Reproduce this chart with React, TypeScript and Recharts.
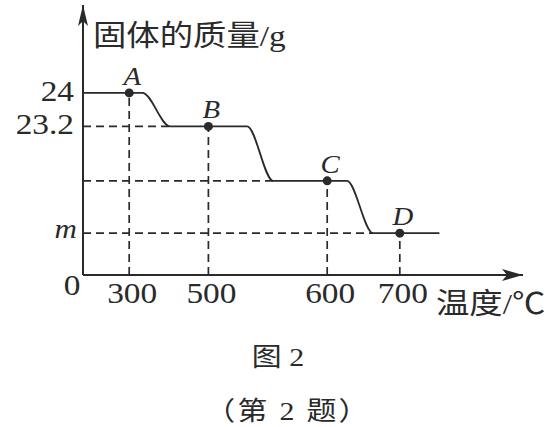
import { LineChart, Line, XAxis, YAxis, ReferenceLine, ReferenceDot } from "recharts";

// temperature axis is drawn schematically, so each reading gets its own slot on it
const tempLabels = ["300", "500", "600", "700"];
const tempSlots = [10.5, 28.5, 55.5, 72];

const pointNames = ["A", "B", "C", "D"];
const pointMass = [24, 23.2, 21.9, 20.65]; // C and m are not given
const massLabels = ["24", "23.2", "", "m"];

// where each plateau starts to fall and where it lands on the next one
const dropStart = [13.5, 37.3, 60];
const dropEnd = [19.8, 43.2, 65.9];
const curveEnd = 81;

const X_MAX = 100;
const Y_MIN = 19.65;
const Y_MAX = 26.1;

const INK = "#2a2a2a";
const SERIF = "'Liberation Serif', 'Noto Sans CJK SC', serif";
const SX = 1.15; // glyphs are set a little wide

const lineData = [
  { x: 0, mass: pointMass[0], name: "" },
  ...pointNames.map((name, i) => ({ x: tempSlots[i], mass: pointMass[i], name })),
  ...dropStart.map((x, i) => ({ x, mass: pointMass[i], name: "" })),
  ...dropEnd.map((x, i) => ({ x, mass: pointMass[i + 1], name: "" })),
  { x: curveEnd, mass: pointMass[3], name: "" },
].sort((a, b) => a.x - b.x);

function Txt({ x, y, size, anchor = "start", italic = false, spacing = 0, children }: any) {
  return (
    <text
      transform={`translate(${x},${y}) scale(${SX},1)`}
      textAnchor={anchor}
      fontSize={size}
      fontFamily={SERIF}
      fontStyle={italic ? "italic" : "normal"}
      letterSpacing={spacing}
      fill={INK}
    >
      {children}
    </text>
  );
}

function TempTick({ x, y, index }: any) {
  return (
    <Txt x={x + 3} y={y + 28} size={29} anchor="middle">
      {tempLabels[index]}
    </Txt>
  );
}

function MassTick({ x, y, index }: any) {
  const label = massLabels[index];
  if (!label) return <g />;
  const isM = label === "m";
  return (
    <Txt x={x - (isM ? 6 : 9)} y={y + (isM ? 5 : 8)} size={isM ? 27 : 29} anchor="end" italic={isM}>
      {label}
    </Txt>
  );
}

function PointDot(props: any) {
  const { cx, cy, payload, index } = props;
  if (!payload.name) return <g key={index} />;
  return (
    <g key={index}>
      <circle cx={cx} cy={cy} r={4.5} fill={INK} />
      <Txt x={cx + 3} y={cy - 8} size={25} anchor="middle" italic>
        {payload.name}
      </Txt>
    </g>
  );
}

const xArrow = (p: any) => (
  <path d={`M${p.cx},${p.cy} L${p.cx - 21},${p.cy - 6} L${p.cx - 16},${p.cy} L${p.cx - 21},${p.cy + 6} Z`} fill={INK} />
);
const yArrow = (p: any) => (
  <path d={`M${p.cx},${p.cy} L${p.cx - 5},${p.cy + 21} L${p.cx},${p.cy + 16} L${p.cx + 5},${p.cy + 21} Z`} fill={INK} />
);

const dashed = { stroke: INK, strokeWidth: 1.7, strokeDasharray: "8 5" };

export default function App() {
  return (
    <div style={{ width: 556, height: 427, background: "#fff" }}>
      <style>{"body{margin:0}"}</style>
      <LineChart width={556} height={427} data={lineData} margin={{ top: 5, right: 33, bottom: 92, left: 0 }}>
        <XAxis
          dataKey="x"
          type="number"
          domain={[0, X_MAX]}
          allowDataOverflow
          ticks={tempSlots}
          tick={<TempTick />}
          tickLine={false}
          tickSize={0}
          tickMargin={0}
          height={60}
          axisLine={{ stroke: INK, strokeWidth: 2 }}
        />
        <YAxis
          type="number"
          domain={[Y_MIN, Y_MAX]}
          allowDataOverflow
          ticks={pointMass}
          tick={<MassTick />}
          tickLine={false}
          tickSize={0}
          tickMargin={0}
          width={83}
          axisLine={{ stroke: INK, strokeWidth: 2 }}
        />

        {pointNames.map((n, i) => (
          <ReferenceLine
            key={`v${n}`}
            segment={[
              { x: tempSlots[i], y: Y_MIN },
              { x: tempSlots[i], y: pointMass[i] },
            ]}
            {...dashed}
          />
        ))}
        {dropEnd.map((x, i) => (
          <ReferenceLine
            key={`h${i}`}
            segment={[
              { x: 0, y: pointMass[i + 1] },
              { x, y: pointMass[i + 1] },
            ]}
            {...dashed}
          />
        ))}

        <Line
          dataKey="mass"
          type="monotone"
          stroke={INK}
          strokeWidth={1.8}
          dot={PointDot}
          activeDot={false}
          isAnimationActive={false}
        />

        <ReferenceDot x={X_MAX} y={Y_MIN} r={0} shape={xArrow} />
        <ReferenceDot x={0} y={Y_MAX} r={0} shape={yArrow} />

        <Txt x={72} y={295} size={29} anchor="middle">0</Txt>
        <Txt x={93} y={46} size={29}>固体的质量/g</Txt>
        <Txt x={436} y={314} size={29}>温度/℃</Txt>
        <Txt x={278} y={366} size={26} anchor="middle">图 2</Txt>
        <Txt x={288} y={420} size={26} anchor="middle" spacing={2}>（第 2 题）</Txt>
      </LineChart>
    </div>
  );
}
